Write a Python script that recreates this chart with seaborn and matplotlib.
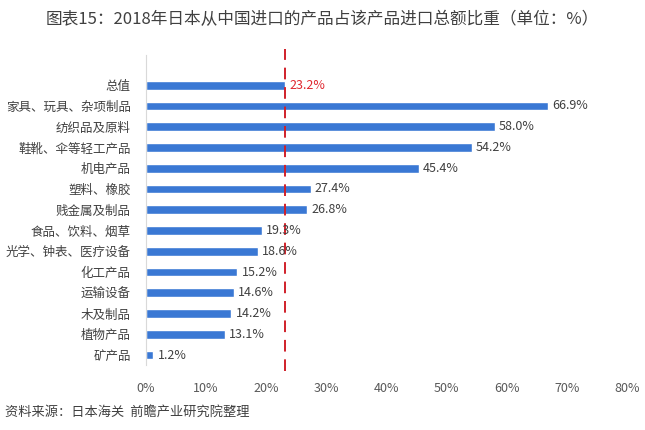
import matplotlib
matplotlib.use("Agg")
import matplotlib.pyplot as plt
import seaborn as sns
import pandas as pd

# data
categories = ["总值", "家具、玩具、杂项制品", "纺织品及原料", "鞋靴、伞等轻工产品", "机电产品",
              "塑料、橡胶", "贱金属及制品", "食品、饮料、烟草", "光学、钟表、医疗设备",
              "化工产品", "运输设备", "木及制品", "植物产品", "矿产品"]
shares = [23.2, 66.9, 58.0, 54.2, 45.4, 27.4, 26.8, 19.3, 18.6, 15.2, 14.6, 14.2, 13.1, 1.2]
x_ticks = [0, 10, 20, 30, 40, 50, 60, 70, 80]
average_share = 23.2

sns.set_theme(style="white")
plt.rcParams['font.family'] = ['Noto Sans CJK SC', 'DejaVu Sans']

df = pd.DataFrame({"category": categories, "share": shares})

fig = plt.figure(figsize=(6.45, 4.3), dpi=100)
ax = fig.add_axes([0.2264, 0.151, 0.7456, 0.721])

sns.barplot(data=df, y="category", x="share", orient="h", color="#3A78D4",
            saturation=1, width=0.42, ax=ax)

# value labels
for i, v in enumerate(shares):
    color = "#E0262E" if i == 0 else "#404040"
    ax.text(v + 0.7, i, f"{v:.1f}%", va="center", ha="left", fontsize=9,
            color=color)

# dashed reference line for the overall share
ax.axvline(average_share, ymin=-0.02, ymax=1.02, color="#D0202A", linestyle=(0, (6, 4)),
           linewidth=1.4, clip_on=False)

ax.set_xlim(0, 80)
ax.set_ylim(13.48, -1.45)
ax.set_xticks(x_ticks)
ax.set_xticklabels([f"{t}%" for t in x_ticks])
ax.tick_params(axis="x", colors="#595959", labelsize=9, length=0, pad=12)
ax.tick_params(axis="y", colors="#404040", labelsize=9, length=0, pad=11)
ax.set_xlabel("")
ax.set_ylabel("")

for side in ["top", "right", "bottom"]:
    ax.spines[side].set_visible(False)
ax.spines["left"].set_color("#D9D9D9")
ax.spines["left"].set_linewidth(0.8)

fig.text(0.5, 0.955, "图表15：2018年日本从中国进口的产品占该产品进口总额比重（单位：%）",
         ha="center", va="center", fontsize=12, color="#404040")
fig.text(0.008, 0.042, "资料来源：日本海关  前瞻产业研究院整理",
         ha="left", va="center", fontsize=9.5, color="#404040")

fig.savefig("out.png", dpi=100)
